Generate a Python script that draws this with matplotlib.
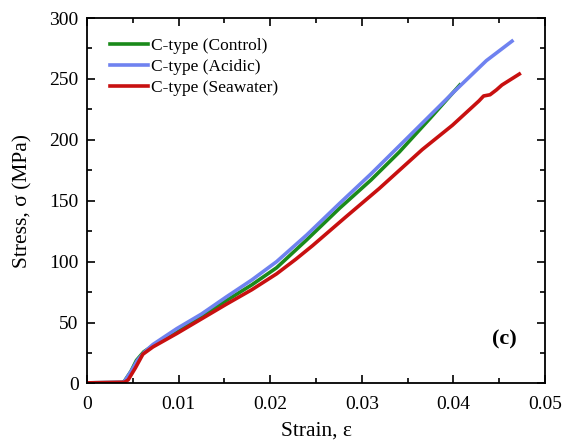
from matplotlib import pyplot as plt
import numpy as np

plt.rcParams["font.family"] = ["Liberation Serif", "DejaVu Serif"]
plt.rcParams["mathtext.fontset"] = "stix"

# strain / stress points
control_x = [0, 0.0039, 0.0041, 0.0048, 0.0054, 0.0062, 0.0072, 0.0098, 0.0125, 0.0152, 0.018, 0.0207,
             0.024, 0.0276, 0.031, 0.0341, 0.0375, 0.0407]
control_y = [0.5, 0.8, 2, 10, 19, 26, 31, 42, 55, 68, 81, 95, 118, 144, 167, 190, 218, 245]

acidic_x = [0, 0.0040, 0.0042, 0.0049, 0.0055, 0.0063, 0.0072, 0.0098, 0.0125, 0.0152, 0.018, 0.0207,
            0.024, 0.0276, 0.031, 0.0349, 0.0400, 0.0436, 0.0464]
acidic_y = [0.5, 1, 3, 11, 19, 26, 32, 45, 57, 71, 85, 100, 122, 148, 172, 201, 239, 265, 281]

seawater_x = [0, 0.0041, 0.0045, 0.0053, 0.0061, 0.0072, 0.0098, 0.0125, 0.0152, 0.018, 0.0207, 0.0228,
              0.0246, 0.0283, 0.0319, 0.0366, 0.0399, 0.0428, 0.0433, 0.0440, 0.0447, 0.0453, 0.0472]
seawater_y = [0.5, 1, 3, 13, 24, 30, 41, 53, 65, 77, 90, 102, 113, 137, 160, 192, 212, 232, 236, 237,
              241, 245, 254]

labels = ["C-type (Control)", "C-type (Acidic)", "C-type (Seawater)"]
colors = ["#1a8a1a", "#6f82f0", "#c81010"]

fig = plt.figure(figsize=(5.62, 4.46), dpi=100)
ax = fig.add_axes([0.1548, 0.1402, 0.8149, 0.8194])

ax.plot(control_x, control_y, color=colors[0], lw=2.6, label=labels[0])
ax.plot(acidic_x, acidic_y, color=colors[1], lw=2.6, label=labels[1])
ax.plot(seawater_x, seawater_y, color=colors[2], lw=2.6, label=labels[2])

ax.set_xlim(0, 0.05)
ax.set_ylim(0, 300)
ax.set_xticks(np.arange(0, 0.051, 0.01))
ax.set_xticklabels(["0", "0.01", "0.02", "0.03", "0.04", "0.05"])
ax.set_xticks(np.arange(0.005, 0.05, 0.01), minor=True)
ax.set_yticks(np.arange(0, 301, 50))
ax.set_yticks(np.arange(25, 300, 50), minor=True)
ax.tick_params(which="both", direction="in", top=True, right=True, width=1.2, labelsize=14)
ax.tick_params(which="major", length=5.5)
ax.tick_params(axis="x", which="major", pad=9)
ax.tick_params(axis="y", which="major", pad=6)
ax.tick_params(which="minor", length=3.5)
for s in ax.spines.values():
    s.set_linewidth(1.3)

ax.set_xlabel("Strain, ε", fontsize=15.5, labelpad=6)
ax.set_ylabel("Stress, σ (MPa)", fontsize=15.5, labelpad=12)

ax.text(0.0456, 36, "(c)", fontsize=16, fontweight="bold", ha="center", va="center")

ax.legend(loc="upper left", bbox_to_anchor=(0.028, 0.975), frameon=False, fontsize=12.5,
          handlelength=2.2, handletextpad=0.15, labelspacing=0.3, borderaxespad=0.2)

plt.savefig("out.png", dpi=100)
